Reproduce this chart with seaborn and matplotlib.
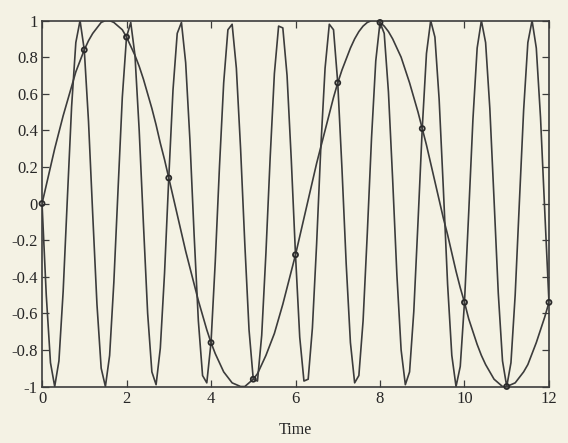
import numpy as np
import pandas as pd
import matplotlib
matplotlib.use("Agg")
import matplotlib.pyplot as plt
import seaborn as sns

# Time grid (s), sampled every 0.1 s from 0 to 12
time = np.round(np.arange(0, 121) * 0.1, 1)

# Slow signal sin(t) at each grid point
slow_signal = [
    0.00, 0.10, 0.20, 0.30, 0.39, 0.48, 0.56, 0.64, 0.72, 0.78,
    0.84, 0.89, 0.93, 0.96, 0.99, 1.00, 1.00, 0.99, 0.97, 0.95,
    0.91, 0.86, 0.81, 0.75, 0.68, 0.60, 0.52, 0.43, 0.33, 0.24,
    0.14, 0.04, -0.06, -0.16, -0.26, -0.35, -0.44, -0.53, -0.61, -0.69,
    -0.76, -0.82, -0.87, -0.92, -0.95, -0.98, -0.99, -1.00, -1.00, -0.98,
    -0.96, -0.93, -0.88, -0.83, -0.77, -0.71, -0.63, -0.55, -0.46, -0.37,
    -0.28, -0.18, -0.08, 0.02, 0.12, 0.22, 0.31, 0.40, 0.49, 0.58,
    0.66, 0.73, 0.79, 0.85, 0.90, 0.94, 0.97, 0.99, 1.00, 1.00,
    0.99, 0.97, 0.94, 0.90, 0.85, 0.80, 0.73, 0.66, 0.58, 0.50,
    0.41, 0.32, 0.22, 0.12, 0.02, -0.08, -0.17, -0.27, -0.37, -0.46,
    -0.54, -0.63, -0.70, -0.77, -0.83, -0.88, -0.92, -0.96, -0.98, -1.00,
    -1.00, -0.99, -0.98, -0.95, -0.92, -0.88, -0.82, -0.76, -0.69, -0.62,
    -0.54,
]

# Fast signal at the same grid points (aliases onto the slow one at integer times)
fast_signal = [
    0.00, -0.50, -0.87, -1.00, -0.86, -0.48, 0.03, 0.53, 0.88, 1.00,
    0.84, 0.45, -0.06, -0.55, -0.90, -1.00, -0.83, -0.43, 0.08, 0.58,
    0.91, 0.99, 0.81, 0.40, -0.11, -0.60, -0.92, -0.99, -0.79, -0.38,
    0.14, 0.62, 0.93, 0.99, 0.77, 0.35, -0.17, -0.64, -0.94, -0.98,
    -0.76, -0.32, 0.20, 0.66, 0.95, 0.98, 0.74, 0.30, -0.22, -0.69,
    -0.96, -0.97, -0.72, -0.27, 0.25, 0.71, 0.97, 0.96, 0.70, 0.24,
    -0.28, -0.73, -0.97, -0.96, -0.68, -0.22, 0.31, 0.74, 0.98, 0.95,
    0.66, 0.19, -0.33, -0.76, -0.98, -0.94, -0.64, -0.16, 0.36, 0.78,
    0.99, 0.93, 0.61, 0.13, -0.39, -0.80, -0.99, -0.92, -0.59, -0.10,
    0.41, 0.82, 1.00, 0.91, 0.57, 0.08, -0.44, -0.83, -1.00, -0.89,
    -0.54, -0.05, 0.46, 0.85, 1.00, 0.88, 0.52, 0.02, -0.49, -0.86,
    -1.00, -0.87, -0.50, 0.01, 0.51, 0.88, 1.00, 0.85, 0.47, -0.04,
    -0.54,
]

# Samples taken once per second
sample_times = [0, 1, 2, 3, 4, 5, 6, 7, 8, 9, 10, 11, 12]
sample_values = [0.00, 0.84, 0.91, 0.14, -0.76, -0.96, -0.28, 0.66, 0.99, 0.41, -0.54, -1.00, -0.54]

x_ticks = [0, 2, 4, 6, 8, 10, 12]
y_ticks = [-1, -0.8, -0.6, -0.4, -0.2, 0, 0.2, 0.4, 0.6, 0.8, 1]

paper = "#f4f2e4"
ink = "#3c3c3c"
text_ink = "#262626"

sns.set_theme(style="white")
plt.rcParams["font.family"] = ["Liberation Serif", "DejaVu Serif"]

df = pd.DataFrame({"Time": time, "slow": slow_signal, "fast": fast_signal})
samples = pd.DataFrame({"Time": sample_times, "value": sample_values})

fig = plt.figure(figsize=(5.68, 4.43), dpi=100, facecolor=paper)
ax = fig.add_axes([0.074, 0.1275, 0.8925, 0.826])
ax.set_facecolor(paper)

sns.lineplot(data=df, x="Time", y="fast", ax=ax, color=ink, linewidth=1.2,
             estimator=None, sort=False)
sns.lineplot(data=df, x="Time", y="slow", ax=ax, color=ink, linewidth=1.2,
             estimator=None, sort=False)
sns.scatterplot(data=samples, x="Time", y="value", ax=ax, marker="o", s=13,
                facecolor="none", edgecolor="#2a2a2a", linewidth=1.3, zorder=5,
                clip_on=False)

ax.set_xlim(0, 12)
ax.set_ylim(-1, 1)
ax.set_xticks(x_ticks)
ax.set_yticks(y_ticks)
ax.set_xticklabels([f"{v:g}" for v in x_ticks])
ax.set_yticklabels([f"{v:g}" for v in y_ticks])
ax.tick_params(direction="in", length=5, width=0.9, color=ink, labelcolor=text_ink,
               labelsize=12, top=True, right=True, bottom=True, left=True, pad=3)
ax.set_xlabel("Time", fontsize=11.5, color=text_ink, labelpad=11)
ax.set_ylabel("")
for side in ax.spines.values():
    side.set_color(ink)
    side.set_linewidth(1.2)

fig.savefig("out.png", dpi=100, facecolor=paper)
